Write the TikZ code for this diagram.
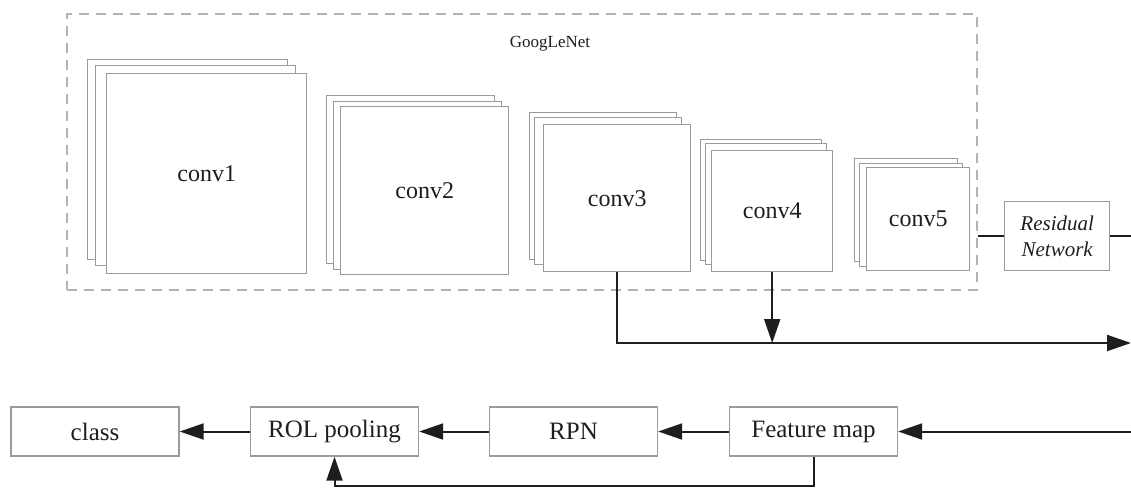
\documentclass[tikz,border=0pt]{standalone}
\usepackage{fontspec}
\setmainfont{Liberation Serif}
\usetikzlibrary{arrows.meta,calc}
\definecolor{boxgray}{HTML}{9A9A9A}
\definecolor{framegray}{HTML}{B4B4B4}
\definecolor{ink}{HTML}{1E1E1E}
% a stack of three feature-map sheets: name, x, y, size, two back offsets, label
\newcommand\convstack[9]{%
  \node[sheet,minimum size=#4pt] (#1b) at ($(#2,#3)-(#7,#8)$) {};
  \node[sheet,minimum size=#4pt] (#1m) at ($(#2,#3)-(#5,#6)$) {};
  \node[sheet,minimum size=#4pt,font=\fontsize{24}{28}\selectfont] (#1) at (#2,#3) {#9};
}
\begin{document}
\begin{tikzpicture}[x=1pt,y=-1pt,
  sheet/.style={draw=boxgray,line width=1.4pt,fill=white,inner sep=0pt,
    anchor=north west,text=ink},
  stage/.style={draw=boxgray,line width=1.4pt,fill=white,inner sep=0pt,
    minimum width=168pt,minimum height=49pt,text=ink,
    font=\fontsize{25}{29}\selectfont},
  frame/.style={draw=framegray,line width=1.5pt,dash pattern=on 10pt off 7pt,
    inner sep=0pt,anchor=north west},
  wire/.style={draw=ink,line width=2pt},
  arrow/.style={wire,-{Triangle[length=24pt,width=16pt]}}]
\useasboundingbox (0,0) rectangle (1131,488);

% GoogLeNet backbone
\node[frame,minimum width=910pt,minimum height=276pt] (gnet) at (66,13) {};
\node[text=ink,font=\fontsize{17}{20}\selectfont] (gname) at (550,44) {GoogLeNet};

\convstack{ca}{106}{73}{200}{11}{8}{19}{14}{conv1}
\convstack{cb}{340}{106}{168}{7}{5}{14}{11}{conv2}
\convstack{cc}{543}{124}{147}{9}{7}{14}{12}{conv3}
\convstack{cd}{711}{150}{121}{6}{7}{11}{11}{conv4}
\convstack{ce}{866}{167}{103}{7}{4}{12}{9}{conv5}

% residual branch
\node[draw=boxgray,line width=1.4pt,inner sep=0pt,anchor=north west,
  minimum width=105pt,minimum height=69pt,align=center,text=ink,
  font=\fontsize{21}{26}\selectfont\itshape] (res) at (1004,201) {Residual\\Network};
\coordinate (edge) at (1131,0);
\draw[wire] (res.west -| gnet.east) -- (res.west);
\draw[wire] (res.east) -- (res.east -| edge);

% multi-scale feature bus
\coordinate (bus) at (1131,343);
\draw[arrow] (cc.south) |- (bus);
\draw[arrow] (cd.south) -- (cd.south |- bus);

% detection head
\node[stage] (cls) at (95,431.5) {class};
\node[stage] (rol) at (334.5,431.5) {ROL pooling};
\node[stage] (rpn) at (573.5,431.5) {RPN};
\node[stage] (fm) at (813.5,431.5) {Feature map};
\coordinate (feed) at (1131,431.5);
\coordinate (loop) at (0,486);
\draw[arrow] (feed) -- (fm.east);
\draw[arrow] (fm.west) -- (rpn.east);
\draw[arrow] (rpn.west) -- (rol.east);
\draw[arrow] (rol.west) -- (cls.east);
\draw[arrow] (fm.south) -- (fm.south |- loop) -| (rol.south);
\end{tikzpicture}
\end{document}
